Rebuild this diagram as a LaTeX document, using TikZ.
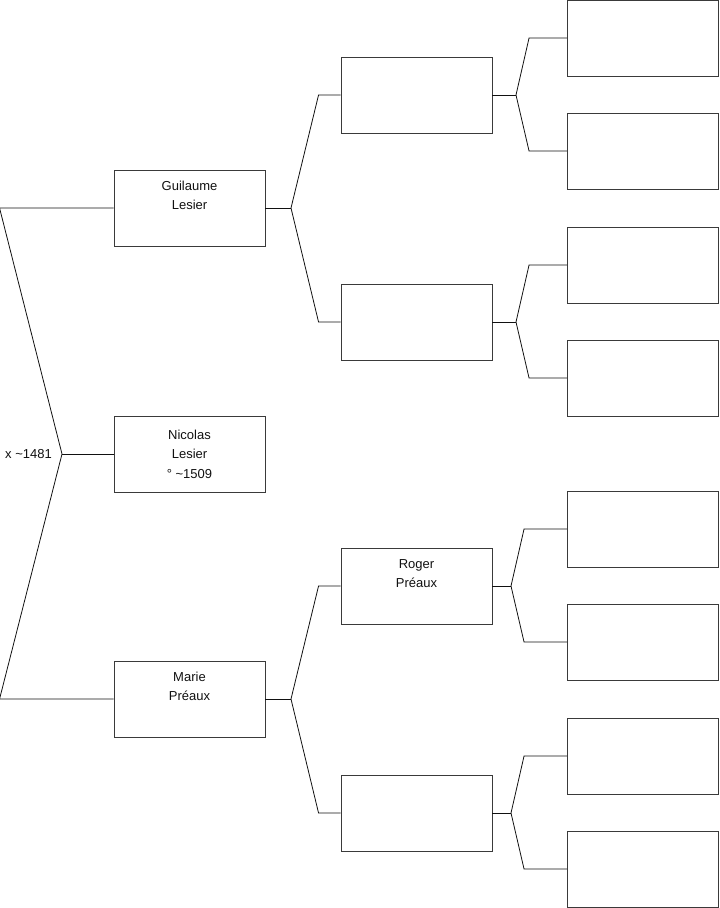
\documentclass[tikz,border=0pt]{standalone}
\usepackage{fontspec}
\setmainfont{Liberation Sans}
\usetikzlibrary{calc}
\definecolor{ink}{HTML}{111111}
\definecolor{frameline}{HTML}{3A3A3A}

\begin{document}
\begin{tikzpicture}[x=1pt, y=-1pt,
    person/.style={draw=frameline, line width=0.9pt, minimum width=151pt, minimum height=76pt,
                   inner sep=0pt, align=center, text=ink, font=\fontsize{13}{19.5}\selectfont},
    link/.style={draw=ink, line width=0.8pt}]

  \useasboundingbox (0,0) rectangle (719.5,908);

  % Generation 1 (subject and parents).
  \node[person] (guil) at (189.5,208) {Guilaume\\Lesier\\\strut};
  \node[person] (nico) at (189.5,454) {Nicolas\\Lesier\\° \textasciitilde1509};
  \node[person] (marie) at (189.5,699) {Marie\\Préaux\\\strut};

  % Generation 2.
  \node[person] (gf1) at (416.5,95) {};
  \node[person] (gm1) at (416.5,322) {};
  \node[person] (roger) at (416.5,586) {Roger\\Préaux\\\strut};
  \node[person] (gm2) at (416.5,813) {};

  % Generation 3.
  \node[person] (a1) at (643,38) {};
  \node[person] (a2) at (643,151) {};
  \node[person] (a3) at (643,265) {};
  \node[person] (a4) at (643,378) {};
  \node[person] (a5) at (643,529) {};
  \node[person] (a6) at (643,642) {};
  \node[person] (a7) at (643,756) {};
  \node[person] (a8) at (643,869) {};

  % Junction points.
  \coordinate (jroot) at (62,454);
  \coordinate (jguil) at (291,208);
  \coordinate (jmarie) at (291,699);
  \coordinate (jgf1) at (516,95);
  \coordinate (jgm1) at (516,322);
  \coordinate (jroger) at (511,586);
  \coordinate (jgm2) at (511,813);

  % Marriage bracket.
  \draw[link] (guil.west) -- ($(guil.west)+(-114,0)$) -- (jroot) -- ($(marie.west)+(-114,0)$) -- (marie.west);
  \draw[link] (jroot) -- (nico.west);
  \node[left=10pt, inner sep=0pt, text=ink, font=\fontsize{13}{15}\selectfont] (union) at (jroot) {x \textasciitilde1481};

  % Parents of Guilaume and Marie.
  \draw[link] (guil.east) -- (jguil);
  \draw[link] (jguil) -- ($(gf1.west)+(-22,0)$) -- (gf1.west);
  \draw[link] (jguil) -- ($(gm1.west)+(-22,0)$) -- (gm1.west);
  \draw[link] (marie.east) -- (jmarie);
  \draw[link] (jmarie) -- ($(roger.west)+(-22,0)$) -- (roger.west);
  \draw[link] (jmarie) -- ($(gm2.west)+(-22,0)$) -- (gm2.west);

  % Third generation brackets.
  \draw[link] (gf1.east) -- (jgf1);
  \draw[link] (jgf1) -- ($(a1.west)+(-38,0)$) -- (a1.west);
  \draw[link] (jgf1) -- ($(a2.west)+(-38,0)$) -- (a2.west);
  \draw[link] (gm1.east) -- (jgm1);
  \draw[link] (jgm1) -- ($(a3.west)+(-38,0)$) -- (a3.west);
  \draw[link] (jgm1) -- ($(a4.west)+(-38,0)$) -- (a4.west);
  \draw[link] (roger.east) -- (jroger);
  \draw[link] (jroger) -- ($(a5.west)+(-43,0)$) -- (a5.west);
  \draw[link] (jroger) -- ($(a6.west)+(-43,0)$) -- (a6.west);
  \draw[link] (gm2.east) -- (jgm2);
  \draw[link] (jgm2) -- ($(a7.west)+(-43,0)$) -- (a7.west);
  \draw[link] (jgm2) -- ($(a8.west)+(-43,0)$) -- (a8.west);
\end{tikzpicture}
\end{document}
